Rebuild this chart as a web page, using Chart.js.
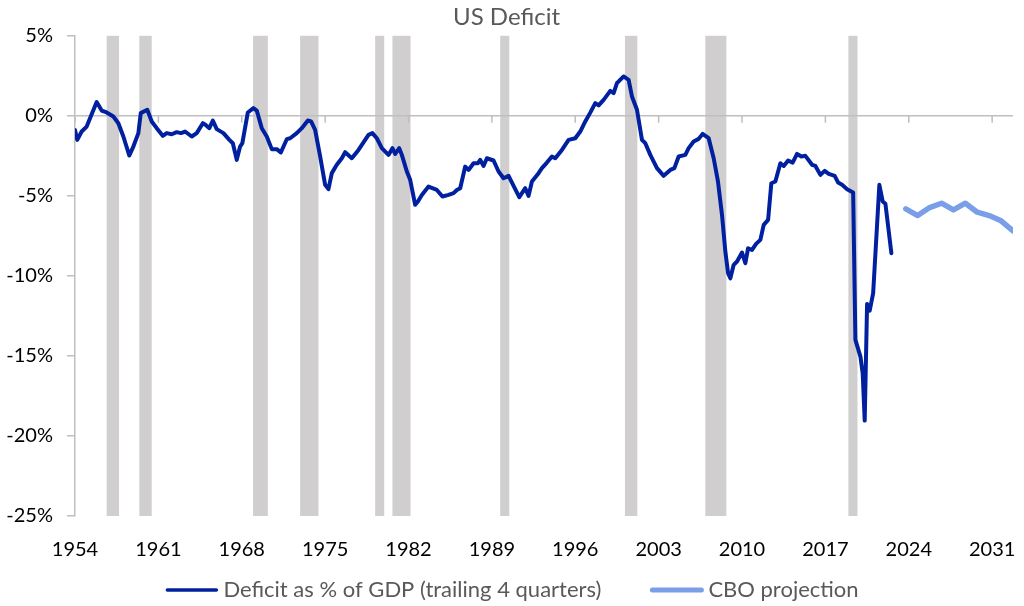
<!DOCTYPE html>
<html>
<head>
<meta charset="utf-8">
<script src="https://cdn.jsdelivr.net/npm/chart.js@4/dist/chart.umd.min.js"></script>
<style>
  html, body { margin: 0; padding: 0; background: #fff; }
</style>
</head>
<body>
<canvas id="grafico-deficit" width="1024" height="606"></canvas>
<script>
// Déficit (% do PIB, 4 trimestres) - anos no eixo do gráfico
let anosDeficit = [
  1954.00, 1954.19, 1954.56, 1954.98, 1955.82, 1956.24, 1956.66, 1957.22, 1957.64, 1958.06,
  1958.56, 1958.90, 1959.32, 1959.52, 1960.07, 1960.44, 1960.86, 1961.37, 1961.70, 1962.12,
  1962.54, 1962.90, 1963.24, 1963.80, 1964.22, 1964.73, 1964.95, 1965.28, 1965.57, 1965.90,
  1966.46, 1966.96, 1967.25, 1967.58, 1967.86, 1968.05, 1968.51, 1968.98, 1969.26, 1969.68,
  1970.10, 1970.52, 1970.94, 1971.28, 1971.78, 1972.06, 1972.62, 1973.04, 1973.55, 1973.82,
  1974.16, 1974.58, 1975.00, 1975.28, 1975.56, 1975.98, 1976.40, 1976.68, 1977.24, 1977.80,
  1978.36, 1978.64, 1978.97, 1979.34, 1979.76, 1980.32, 1980.65, 1980.88, 1981.22, 1981.44,
  1981.86, 1982.14, 1982.56, 1982.79, 1983.12, 1983.68, 1984.38, 1984.85, 1985.36, 1985.78,
  1986.06, 1986.34, 1986.76, 1987.04, 1987.46, 1987.83, 1988.02, 1988.30, 1988.58, 1989.14,
  1989.56, 1989.98, 1990.40, 1990.82, 1991.30, 1991.80, 1992.08, 1992.36, 1992.92, 1993.20,
  1993.62, 1994.04, 1994.32, 1994.88, 1995.44, 1996.00, 1996.42, 1996.84, 1997.26, 1997.68,
  1997.96, 1998.38, 1998.94, 1999.22, 1999.50, 2000.06, 2000.48, 2000.76, 2001.18, 2001.60,
  2001.88, 2002.30, 2002.86, 2003.42, 2003.98, 2004.32, 2004.68, 2005.24, 2005.52, 2005.94,
  2006.36, 2006.69, 2007.20, 2007.62, 2007.98, 2008.32, 2008.60, 2008.83, 2009.02, 2009.30,
  2009.58, 2010.00, 2010.28, 2010.51, 2010.84, 2011.18, 2011.54, 2011.82, 2012.19, 2012.46,
  2012.80, 2013.22, 2013.50, 2013.87, 2014.25, 2014.62, 2014.98, 2015.32, 2015.88, 2016.16,
  2016.58, 2016.94, 2017.28, 2017.78, 2018.07, 2018.40, 2018.82, 2019.33, 2019.52, 2019.94,
  2020.13, 2020.30, 2020.50, 2020.72, 2021.01, 2021.53, 2021.81, 2022.04, 2022.54
];
let valoresDeficit = [
  -0.88, -1.50, -0.98, -0.67, 0.86, 0.33, 0.21, -0.04, -0.46, -1.29,
  -2.48, -1.92, -1.08, 0.17, 0.38, -0.35, -0.77, -1.25, -1.08, -1.15,
  -1.02, -1.08, -0.98, -1.29, -1.08, -0.46, -0.56, -0.77, -0.29, -0.83,
  -1.08, -1.50, -1.71, -2.75, -1.92, -1.71, 0.21, 0.48, 0.33, -0.77,
  -1.29, -2.08, -2.08, -2.29, -1.46, -1.40, -1.08, -0.77, -0.29, -0.35,
  -0.88, -2.54, -4.31, -4.58, -3.58, -3.06, -2.65, -2.27, -2.65, -2.13,
  -1.50, -1.19, -1.08, -1.40, -2.02, -2.44, -2.02, -2.38, -2.02, -2.44,
  -3.48, -4.00, -5.56, -5.35, -4.94, -4.42, -4.63, -5.04, -4.94, -4.83,
  -4.63, -4.52, -3.17, -3.38, -2.96, -2.96, -2.75, -3.13, -2.65, -2.79,
  -3.48, -3.90, -3.75, -4.38, -5.08, -4.52, -5.00, -4.10, -3.58, -3.27,
  -2.92, -2.54, -2.65, -2.13, -1.50, -1.40, -0.98, -0.35, 0.20, 0.79,
  0.65, 1.00, 1.56, 1.42, 2.04, 2.46, 2.25, 1.21, 0.38, -1.50,
  -1.71, -2.44, -3.27, -3.75, -3.38, -3.27, -2.54, -2.44, -2.02, -1.60,
  -1.44, -1.13, -1.40, -2.65, -4.10, -6.19, -8.48, -9.83, -10.15, -9.31,
  -9.10, -8.54, -9.21, -8.27, -8.38, -8.00, -7.75, -6.81, -6.50, -4.21,
  -4.10, -2.96, -3.13, -2.79, -2.92, -2.38, -2.54, -2.50, -3.06, -3.13,
  -3.69, -3.44, -3.63, -3.75, -4.17, -4.31, -4.58, -4.79, -14.00, -15.04,
  -16.08, -19.04, -11.75, -12.17, -11.08, -4.31, -5.35, -5.50, -8.58
];

// Projeção CBO (anual)
let anosCBO = [2023.75, 2024.75, 2025.75, 2026.75, 2027.75, 2028.75, 2029.75, 2030.75, 2031.75, 2032.75];
let valoresCBO = [-5.81, -6.23, -5.73, -5.46, -5.88, -5.46, -6.02, -6.23, -6.56, -7.19];

// Recessões (início / fim, anos no eixo)
let inicioRecessao = [1956.66, 1959.40, 1968.95, 1972.90, 1979.20, 1980.65, 1989.70, 2000.17, 2006.92, 2018.93];
let fimRecessao = [1957.70, 1960.44, 1970.19, 1974.44, 1979.96, 1982.17, 1990.46, 2001.21, 2008.68, 2019.69];

// Rótulos do eixo X
let anosEixo = [1954, 1961, 1968, 1975, 1982, 1989, 1996, 2003, 2010, 2017, 2024, 2031];

const fonte = "Lato, 'Open Sans', sans-serif";
Chart.defaults.font.family = fonte;

// Barras cinzas das recessões (desenhadas antes de tudo)
const pluginRecessao = {
  id: "recessao",
  beforeDraw(chart) {
    const {ctx, chartArea, scales} = chart;
    ctx.save();
    ctx.fillStyle = "#d0cece";
    inicioRecessao.forEach((ini, i) => {
      const x0 = scales.x.getPixelForValue(ini);
      const x1 = scales.x.getPixelForValue(fimRecessao[i]);
      ctx.fillRect(x0, chartArea.top, x1 - x0, chartArea.bottom - chartArea.top);
    });
    ctx.restore();
  },
  beforeDatasetsDraw(chart) {
    // marcas do eixo X sobre a linha do zero
    const {ctx, scales} = chart;
    const y0 = scales.y.getPixelForValue(0);
    ctx.save();
    ctx.strokeStyle = "#bfbfbf";
    ctx.lineWidth = 1.5;
    ctx.beginPath();
    anosEixo.forEach(a => {
      const x = scales.x.getPixelForValue(a);
      ctx.moveTo(x, y0);
      ctx.lineTo(x, y0 + 7);
    });
    ctx.stroke();
    ctx.restore();
  }
};

// Legenda desenhada à mão (espaçamento igual ao do Excel)
const pluginLegenda = {
  id: "legendaDeficit",
  afterDraw(chart) {
    const ctx = chart.ctx;
    const linha = 53, gapTexto = 5, gapItem = 49, yLegenda = 590;
    ctx.save();
    ctx.font = "22px " + fonte;
    ctx.textBaseline = "middle";
    const itens = chart.data.datasets.map(ds => ({ds, w: ctx.measureText(ds.label).width}));
    let total = itens.reduce((s, it) => s + linha + gapTexto + it.w, 0) + gapItem * (itens.length - 1);
    let x = (chart.width - total) / 2;
    itens.forEach(it => {
      ctx.strokeStyle = it.ds.borderColor;
      ctx.lineWidth = it.ds.borderWidth - 0.5;
      ctx.lineCap = "round";
      ctx.beginPath();
      ctx.moveTo(x + 2, yLegenda);
      ctx.lineTo(x + linha - 2, yLegenda);
      ctx.stroke();
      ctx.fillStyle = "#595959";
      ctx.fillText(it.ds.label, x + linha + gapTexto, yLegenda);
      x += linha + gapTexto + it.w + gapItem;
    });
    ctx.restore();
  }
};

let dadosDeficit = {
  datasets: [{
    label: "Deficit as % of GDP (trailing 4 quarters)",
    data: anosDeficit.map((a, i) => ({x: a, y: valoresDeficit[i]})),
    borderColor: "#00209f",
    borderWidth: 4,
    pointRadius: 0,
    tension: 0,
    borderJoinStyle: "round",
    borderCapStyle: "round",
    fill: false
  }, {
    label: "CBO projection",
    data: anosCBO.map((a, i) => ({x: a, y: valoresCBO[i]})),
    borderColor: "#7b9ee9",
    borderWidth: 5.5,
    pointRadius: 0,
    tension: 0,
    borderJoinStyle: "round",
    borderCapStyle: "round",
    fill: false
  }]
};

const configDeficit = {
  type: "line",
  data: dadosDeficit,
  plugins: [pluginRecessao, pluginLegenda],
  options: {
    responsive: false,
    animation: false,
    events: [],
    layout: { padding: { left: 0, right: 11, top: 0, bottom: 0 } },
    scales: {
      x: {
        type: "linear",
        min: 1954,
        max: 2032.75,
        afterBuildTicks: s => { s.ticks = anosEixo.map(v => ({value: v})); },
        ticks: {
          color: "#000",
          font: { size: 20 },
          padding: 22,
          maxRotation: 0,
          autoSkip: false,
          callback: v => String(v)
        },
        grid: { display: false, drawTicks: false },
        border: { display: false },
        afterFit: s => { s.height = 90; s.paddingLeft = 0; s.paddingRight = 0; }
      },
      y: {
        min: -25,
        max: 5,
        ticks: {
          stepSize: 5,
          color: "#000",
          font: { size: 20 },
          padding: 14,
          callback: v => v + "%"
        },
        grid: {
          color: c => (c.tick && c.tick.value === 0) ? "#bfbfbf" : "rgba(0,0,0,0)",
          tickColor: "#bfbfbf",
          tickLength: 8,
          lineWidth: 1.5
        },
        border: { color: "#bfbfbf", width: 1.5 },
        afterFit: s => { s.width = 75; }
      }
    },
    plugins: {
      title: {
        display: true,
        text: "US Deficit",
        color: "#595959",
        font: { size: 24, weight: "normal" },
        padding: { top: 3, bottom: 4 }
      },
      legend: { display: false },
      tooltip: { enabled: false }
    }
  }
};

let graficoDeficit = new Chart(document.getElementById("grafico-deficit"), configDeficit);
</script>
</body>
</html>
